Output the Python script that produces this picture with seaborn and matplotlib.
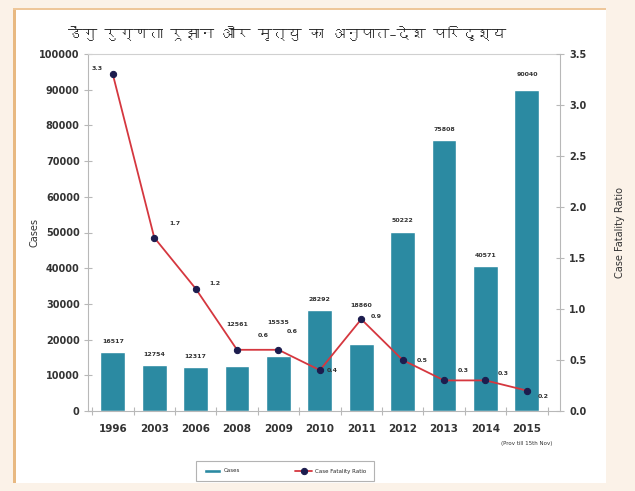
import numpy as np
import pandas as pd
import matplotlib
matplotlib.use("Agg")
import matplotlib.pyplot as plt
from matplotlib import font_manager
from matplotlib.patches import Rectangle
import seaborn as sns

years = ["1996", "2003", "2006", "2008", "2009", "2010", "2011", "2012", "2013", "2014", "2015"]
cases = [16517, 12754, 12317, 12561, 15535, 28292, 18860, 50222, 75808, 40571, 90040]
cfr = [3.3, 1.7, 1.2, 0.6, 0.6, 0.4, 0.9, 0.5, 0.3, 0.3, 0.2]
case_ticks = [0, 10000, 20000, 30000, 40000, 50000, 60000, 70000, 80000, 90000, 100000]
cfr_ticks = [0.0, 0.5, 1.0, 1.5, 2.0, 2.5, 3.0, 3.5]

title = "डेंगु रुग्णता रूझान और मृत्यु का अनुपात–देश परिदृश्य"
note_2015 = "(Prov till 15th Nov)"


def devanagari_font():
    from fontTools.ttLib import TTFont
    for fe in font_manager.fontManager.ttflist:
        try:
            tt = TTFont(fe.fname, fontNumber=0, lazy=True)
            if 0x0921 in tt.getBestCmap():
                return fe.name
        except Exception:
            continue
    return None


sns.set_theme(style="white")
plt.rcParams["font.family"] = ["DejaVu Sans"]

BAR = "#2b8aa2"
LINE = "#d5373f"
DOT = "#1c1c4e"
GRAY = "#b8b8b8"
TXT = "#333333"

fig = plt.figure(figsize=(6.35, 4.91), dpi=100)
fig.patch.set_facecolor("#fbf2e8")
# white page with a tan edge on the top and left
fig.patches.append(Rectangle((16 / 635, 0.017), 590 / 635, 1 - 0.017 - 9 / 491,
                             transform=fig.transFigure, facecolor="white",
                             edgecolor="none", zorder=-10))
fig.patches.append(Rectangle((13 / 635, 0.017), 3 / 635, 1 - 0.017 - 9 / 491,
                             transform=fig.transFigure, facecolor="#e8b982",
                             edgecolor="none", zorder=-9))
fig.patches.append(Rectangle((13 / 635, 1 - 10 / 491), 593 / 635, 2 / 491,
                             transform=fig.transFigure, facecolor="#eec79a",
                             edgecolor="none", zorder=-9))

ax = fig.add_axes([88 / 635, 1 - 411 / 491, (560 - 88) / 635, (411 - 54) / 491])
ax.set_facecolor("none")

df = pd.DataFrame({"Year": years, "Cases": cases, "CFR": cfr})
sns.barplot(data=df, x="Year", y="Cases", color=BAR, saturation=1, width=0.6,
            ax=ax, label="Cases", zorder=2)
h1, l1 = ax.get_legend_handles_labels()
if ax.get_legend() is not None:
    ax.get_legend().remove()

ax.set_xlim(-0.6, 10.8)
ax.set_ylim(0, 100000)
ax.set_yticks(case_ticks)
ax.set_yticklabels([str(t) for t in case_ticks])
ax.set_xlabel("")
ax.set_ylabel("Cases", fontsize=7, color=TXT, labelpad=0)

for s in ["left", "bottom", "top", "right"]:
    ax.spines[s].set_color(GRAY)
    ax.spines[s].set_linewidth(0.8)
ax.spines["top"].set_color("#d0d0d0")

ax.tick_params(axis="y", which="major", direction="inout", length=6, width=0.8,
               color=GRAY, labelsize=7, labelcolor=TXT, left=True, pad=3)
ax.tick_params(axis="x", which="major", length=0, labelsize=7.5, labelcolor=TXT, pad=9)
ax.set_xticks(np.arange(-0.5, 11, 1), minor=True)
ax.tick_params(axis="x", which="minor", direction="inout", length=6, width=0.8,
               color=GRAY, bottom=True)
for lab in ax.get_yticklabels() + ax.get_xticklabels():
    lab.set_fontweight("bold")

# case counts above bars, a few lifted clear of the line
lift = {3: 22, 4: 16, 6: 20, 10: 3}
for i, (bar, v) in enumerate(zip(ax.patches, cases)):
    ax.annotate(str(v), (bar.get_x() + bar.get_width() / 2, bar.get_height()),
                xytext=(0, 6 + lift.get(i, 0)), textcoords="offset points",
                ha="center", va="bottom", fontsize=4.5, fontweight="bold", color=TXT)

ax2 = ax.twinx()
ax2.set_facecolor("none")
pos = np.arange(len(years))
sns.lineplot(x=pos, y=cfr, ax=ax2, color=LINE, lw=1.3, marker="o", markersize=4.5,
             markerfacecolor=DOT, markeredgecolor=DOT, label="Case Fatality Ratio",
             zorder=3, legend=False)
h2, l2 = ax2.get_legend_handles_labels()
ax2.set_ylim(0, 3.5)
ax2.set_yticks(cfr_ticks)
ax2.set_yticklabels([f"{t:.1f}" for t in cfr_ticks])
ax2.set_ylabel("Case Fatality Ratio", fontsize=7, color=TXT, labelpad=21)
ax2.tick_params(axis="y", direction="inout", length=6, width=0.8, color=GRAY,
                labelsize=7, labelcolor=TXT, right=True)
for lab in ax2.get_yticklabels():
    lab.set_fontweight("bold")
for s in ax2.spines.values():
    s.set_visible(False)
ax2.grid(False)
ax.grid(False)

cfr_off = [(-11, 4), (15, 10), (14, 4), (19, 10), (10, 13), (9, 0),
           (11, 2), (14, 0), (14, 7), (13, 5), (12, -4)]
for i, v in enumerate(cfr):
    dx, dy = cfr_off[i]
    ax2.annotate(f"{v:.1f}", (i, v), xytext=(dx, dy), textcoords="offset points",
                 ha="center", va="center", fontsize=4.5, fontweight="bold", color=TXT)

ax.text(10, -0.085, note_2015, transform=ax.get_xaxis_transform(), ha="center",
        va="top", fontsize=4, color=TXT)

dev = devanagari_font()
fam = [dev, "DejaVu Sans"] if dev else ["DejaVu Sans"]
fig.text(287 / 635, 1 - 33 / 491, title, ha="center", va="center", fontsize=10.5,
         family=fam, color="#222222")

leg = fig.legend(h1 + h2, l1 + l2, loc="center", bbox_to_anchor=(285 / 635, 1 - 471 / 491),
                 ncol=2, fontsize=4, frameon=True, fancybox=False, edgecolor="#a0a0a0",
                 handlelength=3, columnspacing=10, borderpad=1.4, handletextpad=0.5)
leg.get_frame().set_linewidth(0.8)

fig.savefig("out.png", dpi=100, facecolor=fig.get_facecolor())
